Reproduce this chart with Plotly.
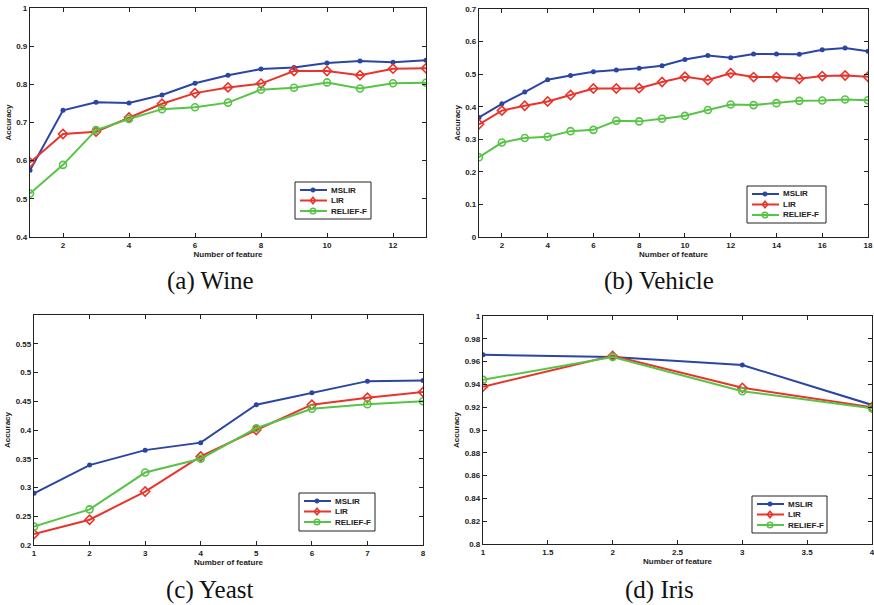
import plotly.graph_objects as go

# ---- data ----
wine_x = list(range(1, 14))
wine_mslir = [0.575, 0.732, 0.753, 0.751, 0.772, 0.803, 0.824, 0.840, 0.844, 0.856, 0.861, 0.858, 0.863]
wine_lir = [0.595, 0.670, 0.676, 0.713, 0.749, 0.777, 0.792, 0.802, 0.835, 0.835, 0.824, 0.841, 0.842]
wine_relief = [0.514, 0.589, 0.680, 0.709, 0.735, 0.740, 0.752, 0.786, 0.791, 0.805, 0.789, 0.803, 0.804]

vehicle_x = list(range(1, 19))
vehicle_mslir = [0.367, 0.409, 0.445, 0.483, 0.496, 0.507, 0.513, 0.518, 0.526, 0.545, 0.557, 0.550,
                 0.562, 0.562, 0.561, 0.575, 0.580, 0.570]
vehicle_lir = [0.346, 0.388, 0.403, 0.416, 0.436, 0.456, 0.456, 0.457, 0.476, 0.492, 0.482, 0.503,
               0.491, 0.491, 0.486, 0.494, 0.496, 0.492]
vehicle_relief = [0.245, 0.290, 0.304, 0.308, 0.325, 0.329, 0.357, 0.355, 0.363, 0.372, 0.390, 0.407,
                  0.405, 0.411, 0.418, 0.419, 0.422, 0.420]

yeast_x = list(range(1, 9))
yeast_mslir = [0.290, 0.339, 0.365, 0.378, 0.444, 0.465, 0.485, 0.486]
yeast_lir = [0.219, 0.244, 0.293, 0.354, 0.400, 0.444, 0.456, 0.466]
yeast_relief = [0.232, 0.262, 0.326, 0.350, 0.403, 0.437, 0.445, 0.450]

iris_x = [1, 2, 3, 4]
iris_mslir = [0.966, 0.964, 0.957, 0.922]
iris_lir = [0.938, 0.965, 0.937, 0.920]
iris_relief = [0.944, 0.964, 0.934, 0.919]

series_names = ["MSLIR", "LIR", "RELIEF-F"]
captions = ["(a) Wine", "(b) Vehicle", "(c) Yeast", "(d) Iris"]

wine_xticks = [2, 4, 6, 8, 10, 12]
wine_yticks = [0.4, 0.5, 0.6, 0.7, 0.8, 0.9, 1.0]
vehicle_xticks = [2, 4, 6, 8, 10, 12, 14, 16, 18]
vehicle_yticks = [0, 0.1, 0.2, 0.3, 0.4, 0.5, 0.6, 0.7]
yeast_xticks = [1, 2, 3, 4, 5, 6, 7, 8]
yeast_yticks = [0.2, 0.25, 0.3, 0.35, 0.4, 0.45, 0.5, 0.55]
iris_xticks = [1, 1.5, 2, 2.5, 3, 3.5, 4]
iris_yticks = [0.8, 0.82, 0.84, 0.86, 0.88, 0.9, 0.92, 0.94, 0.96, 0.98, 1.0]

# ---- styles ----
W, H = 874, 605
BLUE = "#2b45a3"
RED = "#e8342b"
GREEN = "#58c447"
INK = "#222222"
FONT = "Liberation Sans, Arial, sans-serif"
COLORS = [BLUE, RED, GREEN]

markers = [
    dict(symbol="circle", size=5, color=BLUE, line=dict(width=0)),
    dict(symbol="diamond-open", size=7, color=RED, line=dict(width=1.6)),
    dict(symbol="circle-open", size=7, color=GREEN, line=dict(width=1.6)),
]

panels = [
    dict(x=wine_x, ys=[wine_mslir, wine_lir, wine_relief], xr=[1, 13], yr=[0.4, 1.0],
         xt=wine_xticks, yt=wine_yticks, px=(30, 426), py=(8, 237), leg=(295, 182, 371, 219)),
    dict(x=vehicle_x, ys=[vehicle_mslir, vehicle_lir, vehicle_relief], xr=[1, 18], yr=[0, 0.7],
         xt=vehicle_xticks, yt=vehicle_yticks, px=(479, 868), py=(9, 237), leg=(747, 186, 826, 223)),
    dict(x=yeast_x, ys=[yeast_mslir, yeast_lir, yeast_relief], xr=[1, 8], yr=[0.2, 0.6],
         xt=yeast_xticks, yt=yeast_yticks, px=(34, 423), py=(315, 545), leg=(299, 493, 375, 531)),
    dict(x=iris_x, ys=[iris_mslir, iris_lir, iris_relief], xr=[1, 4], yr=[0.8, 1.0],
         xt=iris_xticks, yt=iris_yticks, px=(483, 872), py=(316, 544), leg=(752, 496, 827, 533)),
]


def fmt(v):
    return ("%.2f" % v).rstrip("0").rstrip(".")


def PX(px):
    return px / W


def PY(py):
    return 1 - py / H


fig = go.Figure()
layout = dict(
    width=W, height=H, margin=dict(l=0, r=0, t=0, b=0),
    paper_bgcolor="white", plot_bgcolor="white", showlegend=False,
    font=dict(family=FONT, color=INK),
)
shapes = []
annotations = []

for i, p in enumerate(panels):
    n = "" if i == 0 else str(i + 1)
    for j in range(3):
        fig.add_trace(go.Scatter(
            x=p["x"], y=p["ys"][j], mode="lines+markers", name=series_names[j],
            line=dict(color=COLORS[j], width=2), marker=markers[j],
            xaxis="x" + n, yaxis="y" + n,
        ))
    axcommon = dict(showgrid=False, zeroline=False, showline=True, linecolor=INK, linewidth=1.3,
                    mirror="ticks", ticks="inside", ticklen=4, tickcolor=INK,
                    tickfont=dict(family=FONT, size=8, color=INK, weight="bold"),
                    automargin=False, ticklabeloverflow="allow")
    layout["xaxis" + n] = dict(
        axcommon, domain=[PX(p["px"][0]), PX(p["px"][1])], range=p["xr"], anchor="y" + n,
        tickvals=p["xt"], ticktext=[fmt(v) for v in p["xt"]],
        title=dict(text="Number of feature", standoff=1,
                   font=dict(family=FONT, size=8, color=INK, weight="bold")),
    )
    layout["yaxis" + n] = dict(
        axcommon, domain=[PY(p["py"][1]), PY(p["py"][0])], range=p["yr"], anchor="x" + n,
        tickvals=p["yt"], ticktext=[fmt(v) for v in p["yt"]],
        title=dict(text="Accuracy", standoff=3,
                   font=dict(family=FONT, size=8, color=INK, weight="bold")),
    )

    # ---- legend box (drawn manually for compact MATLAB-like spacing) ----
    lx0, ly0, lx1, ly1 = p["leg"]
    shapes.append(dict(type="rect", xref="paper", yref="paper",
                       x0=PX(lx0), x1=PX(lx1), y0=PY(ly1), y1=PY(ly0),
                       line=dict(color=INK, width=1), fillcolor="white", layer="above"))
    offs = [8, 18.5, 29]
    for j in range(3):
        cy = ly0 + offs[j]
        mx = lx0 + 18
        shapes.append(dict(type="line", xref="paper", yref="paper",
                           x0=PX(lx0 + 5), x1=PX(lx0 + 32), y0=PY(cy), y1=PY(cy),
                           line=dict(color=COLORS[j], width=2), layer="above"))
        if j == 0:
            r = 2.3
            shapes.append(dict(type="circle", xref="paper", yref="paper",
                               x0=PX(mx - r), x1=PX(mx + r), y0=PY(cy + r), y1=PY(cy - r),
                               line=dict(color=BLUE, width=0.5), fillcolor=BLUE, layer="above"))
        elif j == 1:
            d = 3.3
            path = "M %f,%f L %f,%f L %f,%f L %f,%f Z" % (
                PX(mx), PY(cy - d), PX(mx + d * 0.8), PY(cy), PX(mx), PY(cy + d), PX(mx - d * 0.8), PY(cy))
            shapes.append(dict(type="path", xref="paper", yref="paper", path=path,
                               line=dict(color=RED, width=1.5), fillcolor="rgba(0,0,0,0)", layer="above"))
        else:
            r = 2.8
            shapes.append(dict(type="circle", xref="paper", yref="paper",
                               x0=PX(mx - r), x1=PX(mx + r), y0=PY(cy + r), y1=PY(cy - r),
                               line=dict(color=GREEN, width=1.5), fillcolor="rgba(0,0,0,0)", layer="above"))
        annotations.append(dict(text=series_names[j], x=PX(lx0 + 34), y=PY(cy), xref="paper", yref="paper",
                                showarrow=False, xanchor="left", yanchor="middle",
                                font=dict(family=FONT, size=8, color=INK, weight="bold")))

caption_pos = [(210, 281), (659, 281), (210, 590), (659, 590)]
for cap, (cx, cy) in zip(captions, caption_pos):
    annotations.append(dict(text=cap, x=PX(cx), y=PY(cy), xref="paper", yref="paper",
                            showarrow=False, xanchor="center", yanchor="middle",
                            font=dict(family="Liberation Serif, DejaVu Serif, serif", size=25, color="#111111")))

layout["shapes"] = shapes
layout["annotations"] = annotations
fig.update_layout(**layout)
fig.write_html("out.html")
